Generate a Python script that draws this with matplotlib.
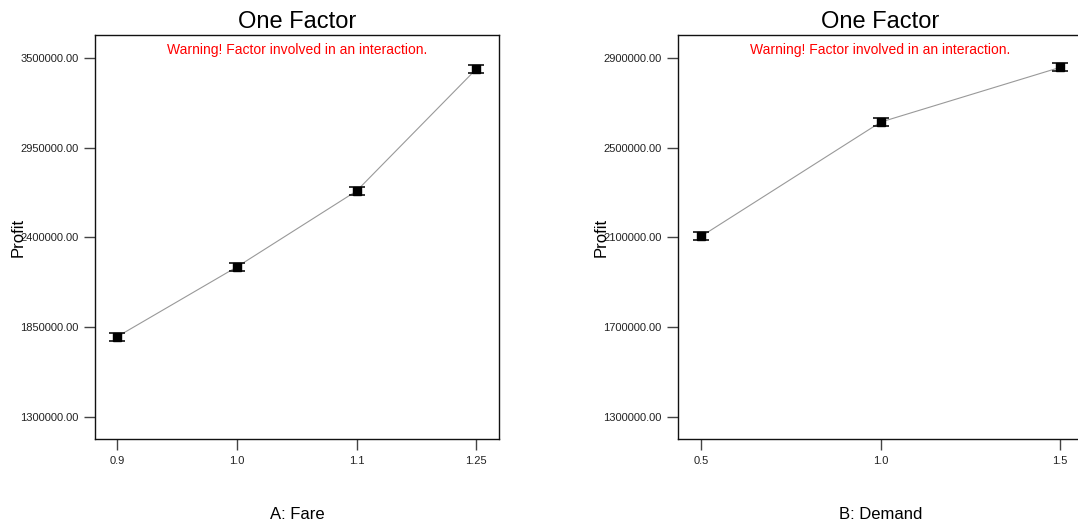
import matplotlib.pyplot as plt
import numpy as np

plt.rcParams['font.family'] = ['Liberation Sans', 'DejaVu Sans']

# Factor A: Fare (equally spaced levels)
fare_levels = ['0.9', '1.0', '1.1', '1.25']
fare_profit = [1790000, 2218000, 2684000, 3432000]
fare_err = [24000, 24000, 24000, 24000]
fare_yticks = [1300000, 1850000, 2400000, 2950000, 3500000]

# Factor B: Demand
demand_levels = [0.5, 1.0, 1.5]
demand_profit = [2105000, 2614000, 2858000]
demand_err = [17500, 17500, 17500]
demand_yticks = [1300000, 1700000, 2100000, 2500000, 2900000]

WARN = "Warning! Factor involved in an interaction."

fig = plt.figure(figsize=(10.78, 5.26), dpi=100)
ax1 = fig.add_axes([95 / 1078, 87 / 526, 404 / 1078, 404 / 526])
ax2 = fig.add_axes([678 / 1078, 87 / 526, 405 / 1078, 404 / 526])


def style_axes(ax, xticks, xticklabels, yticks, xlabel):
    ax.set_title('One Factor', fontsize=17, pad=5)
    ax.set_xticks(xticks)
    ax.set_xticklabels(xticklabels)
    ax.set_yticks(yticks)
    ax.set_yticklabels([f'{v:.2f}' for v in yticks])
    ax.tick_params(axis='both', direction='out', length=8, width=1.0,
                   color='#444444', labelsize=8, labelcolor='#222222', pad=4)
    for s in ax.spines.values():
        s.set_linewidth(1.0)
        s.set_color('#111111')
    ax.set_xlabel(xlabel, fontsize=12, va='center')
    ax.xaxis.set_label_coords(0.5, -0.188)
    ax.set_ylabel('Profit', fontsize=12, va='center')
    ax.yaxis.set_label_coords(-0.19, 0.5)
    ax.text(0.5, 0.963, WARN, transform=ax.transAxes, color='#ff0000',
            fontsize=10, ha='center', va='center')


def draw_series(ax, x, y, err):
    ax.plot(x, y, '-', color='#999999', linewidth=0.8, zorder=2)
    ax.errorbar(x, y, yerr=err, fmt='none', ecolor='#111111', elinewidth=1.2,
                capsize=6, capthick=1.2, zorder=3)
    ax.plot(x, y, 's', color='black', markersize=6, zorder=4)


fare_x = np.arange(len(fare_levels))
draw_series(ax1, fare_x, fare_profit, fare_err)
style_axes(ax1, fare_x, fare_levels, fare_yticks, 'A: Fare')
ax1.set_xlim(-0.184, 3.19)
ax1.set_ylim(1163000, 3641000)

draw_series(ax2, demand_levels, demand_profit, demand_err)
style_axes(ax2, demand_levels, [f'{v:.1f}' for v in demand_levels],
           demand_yticks, 'B: Demand')
ax2.set_xlim(0.435, 1.564)
ax2.set_ylim(1200500, 3002600)

fig.savefig('out.png', dpi=100)
